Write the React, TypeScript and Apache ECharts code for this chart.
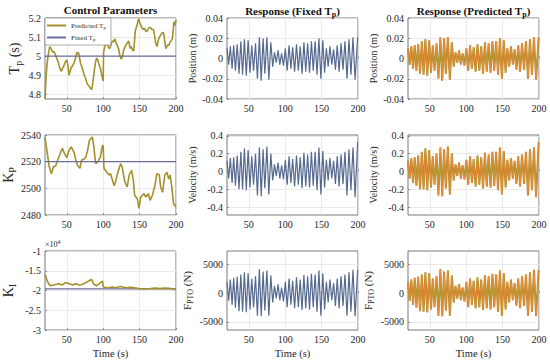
import React, { useEffect, useRef } from 'react';
import * as echarts from 'echarts';

// ---------- Control parameter data ----------
const tpT = [20,21,22,23.5,25,26.5,28,29,30.5,32,34,36,38,39.5,41,42.5,44,45,46.5,48,50,51.5,53,54.5,56,58,60,62,64,65,66,67.5,69,71,72.5,74,76,77.5,79,81,82.5,84,85,86,88,89.5,91,92.5,94,95,96.5,98,99.5,100,100.5,102,103.5,105,107,108.5,110,111.5,113,114,116,117.5,119,121,122.5,124,125,126.5,128,130,131.5,133,135,136,137,138,139,140.5,142,143,144,145.5,147,148,149,150.5,152,153,155,157,158.5,160,161.5,163,165,167,169,170.5,172,174,175.5,177,179,180.5,182,183,184.5,186,187.5,189,190,191.5,193,195,196,197,198.5,200];
const tpPred = [4.775,4.85,4.92,4.98,5.02,5.05,5.04,5.035,5.02,5.025,5.01,4.99,4.97,4.95,4.93,4.92,4.935,4.94,4.955,4.97,4.98,4.95,4.9,4.92,4.94,4.95,4.965,4.99,5.02,5.01,5.02,4.99,4.96,4.94,4.92,4.9,4.88,4.86,4.85,4.84,4.83,4.825,4.84,4.87,4.93,4.97,4.99,4.98,4.96,4.95,4.93,4.9,4.875,4.87,5.02,5.05,5.06,5.07,5.05,5.04,5.05,5.07,5.08,5.075,5.09,5.07,5.06,5.04,5.01,4.99,4.985,5.0,5.03,5.05,5.06,5.07,5.08,5.06,5.04,5.05,5.045,5.03,5.03,5.08,5.13,5.15,5.17,5.19,5.195,5.17,5.16,5.15,5.14,5.145,5.13,5.13,5.14,5.15,5.15,5.14,5.14,5.11,5.07,5.05,5.08,5.1,5.11,5.12,5.125,5.12,5.08,5.04,5.05,5.06,5.055,5.07,5.08,5.09,5.13,5.18,5.16,5.19];
const fixedTp = 5;

const kpT = [20,23,25.5,28.7,31.5,34.7,38,41.5,44,46,50,53,56,60,62,65,68,70,74,76,78,81,85,87,89.5,93,96,99,100,101,105,108,110,115,117,120,124,126,129.6,133,135.6,139,141.5,143,147,149,151.6,156,158.5,162,164.5,167.7,171,173.7,177,179,181.5,184.7,187.5,190,192,194,196.6,200];
const kpPred = [2538.5,2527,2517,2511,2516,2517,2522,2527,2530,2527,2523,2528.5,2531,2527,2522,2517,2515,2521,2522,2523.5,2527,2536,2538.5,2532,2518.5,2520,2523.5,2532,2532,2515,2512,2510,2511,2502,2505,2512,2518.5,2516,2505,2501,2510,2513.5,2506,2495,2492,2485,2493.5,2496,2493.5,2496,2491,2495,2502,2511,2510,2501,2497,2510,2512,2507,2510,2502,2488.5,2486];
const fixedKp = 2520;

const kiT = [20,23,27,32,39,44,48,53,58,62,67,71,76,80,84,87,91,94,99,100,106,113,117,124,131,138,142.5,149,156,165,172,177,184,190.6,195,200];
const kiPred = [-15900,-17600,-18800,-18600,-18300,-18600,-18000,-18300,-18600,-18300,-18600,-18500,-18000,-17600,-17200,-18400,-18800,-18300,-17600,-19100,-19300,-19100,-19300,-19000,-19300,-19200,-19300,-19500,-19600,-19500,-19400,-19500,-19400,-19450,-19550,-19900];
const fixedKi = -19600;

// ---------- Response data (extremes of the wave) ----------
const respT = [20,22.3,24.6,27,29.2,31.6,34, 36.5,39,41.4,43.9,46.5,49, 51.6,54,56.5,59.2, 61.8,64.5,67,69.6,72,74.8,77.5,80.2, 82.8,85.3,87.7,90.2,92.6,95,97.6, 100.2,102.7,105.3,107.8,110.2,112.9,115.5,118,120.6,123.1,125.7,128.2,130.8,133.4,136,138.5, 141.1,143.7,146.3,149,151.6,154.1, 156.5,159,161.5,164,166.5,169,171.5, 174,176.7,179.4,182.1,184.9,187.6,190.3,193.1,196,199.5];
const position = [0.010,-0.006,0.012,-0.010,0.013,-0.012,0.014, -0.015,0.017,-0.016,0.019,-0.017,0.018, -0.014,0.013,-0.012,0.015, -0.020,0.021,-0.022,0.020,-0.015,0.021,-0.021,0.016, -0.008,0.006,-0.004,0.008,-0.006,0.005,-0.007, 0.010,-0.012,0.013,-0.010,0.011,-0.013,0.014,-0.012,0.012,-0.015,0.016,-0.013,0.015,-0.014,0.017,-0.012, 0.017,-0.016,0.020,-0.020,0.018,-0.014, 0.010,-0.008,0.012,-0.006,0.009,-0.011,0.013, -0.013,0.015,-0.011,0.017,-0.020,0.019,-0.016,0.021,-0.021,0.021];
const velocity = [0.12,-0.08,0.15,-0.13,0.16,-0.16,0.18, -0.20,0.22,-0.20,0.26,-0.21,0.24, -0.18,0.17,-0.15,0.20, -0.27,0.27,-0.28,0.25,-0.19,0.28,-0.26,0.20, -0.10,0.08,-0.05,0.10,-0.08,0.07,-0.09, 0.13,-0.15,0.17,-0.13,0.14,-0.17,0.18,-0.15,0.16,-0.19,0.21,-0.17,0.19,-0.18,0.22,-0.16, 0.22,-0.21,0.27,-0.26,0.23,-0.18, 0.13,-0.10,0.15,-0.08,0.12,-0.14,0.17, -0.17,0.19,-0.14,0.22,-0.27,0.25,-0.21,0.27,-0.29,0.33];
const force = [2000,-1300,2400,-2000,2700,-2500,2900, -3100,3300,-3200,3700,-3300,3500, -2800,2600,-2400,3000, -3900,4200,-4000,3800,-3000,4000,-3900,3100, -1600,1300,-900,1600,-1200,1000,-1400, 2000,-2400,2600,-2000,2200,-2600,2800,-2400,2400,-2900,3200,-2600,3000,-2800,3400,-2400, 3300,-3200,4000,-3900,3500,-2800, 2000,-1600,2400,-1200,1800,-2200,2600, -2600,3000,-2200,3300,-3900,3700,-3200,4100,-4000,4100];

// ---------- Tick labels ----------
const xTicks = [50, 100, 150, 200];
const tpTicks = [4.8, 4.9, 5, 5.1, 5.2];
const kpTicks = [2480, 2500, 2520, 2540];
const kiTicks = [-30000, -25000, -20000, -15000, -10000];
const posTicks = [-0.04, -0.02, 0, 0.02, 0.04];
const velTicks = [-0.4, -0.2, 0, 0.2, 0.4];
const fTicks = [-5000, 0, 5000];

const FONT = 'Liberation Serif';
const OLIVE = '#A3912A';
const BLUE = '#56698F';
const FIXED = '#6B6E9C';
const ORANGE = '#F08A3A';
const TXT = '#262626';

const pairs = (xs: number[], ys: number[]) => xs.map((x, i) => [x, ys[i]]);

export default function App() {
  const ref = useRef<HTMLDivElement>(null);
  useEffect(() => {
    if (!ref.current) return;
    const chart = echarts.init(ref.current, undefined, { renderer: 'svg' });
    const colL = [45, 227, 408];
    const rowT = [18, 135, 251];
    const rowH = [81, 80, 80];
    const W = 131;
    const grids: any[] = [];
    for (let r = 0; r < 3; r++)
      for (let c = 0; c < 3; c++)
        grids.push({ left: colL[c], top: rowT[r], width: W, height: rowH[r], show: true, borderColor: '#555', borderWidth: 0.8, backgroundColor: '#fff' });

    const nameRich = (fs: number) => ({
      a: { fontFamily: FONT, fontSize: fs, color: TXT },
      s: { fontFamily: FONT, fontSize: Math.round(fs * 0.7), color: TXT, padding: [Math.round(fs * 0.55), 0, 0, 0] },
    });

    const plain = (v: number) => String(v);
    const yCfg = [
      { min: 4.775, max: 5.2, ticks: tpTicks, name: '{a|T}{s|p}{a| (s)}', fs: 14, gap: 22, fmt: plain },
      { min: -0.04, max: 0.04, ticks: posTicks, name: '{a|Position (m)}', fs: 10, gap: 30, fmt: plain },
      { min: -0.04, max: 0.04, ticks: posTicks, name: '{a|Position (m)}', fs: 10, gap: 30, fmt: plain },
      { min: 2480, max: 2540, ticks: kpTicks, name: '{a|K}{s|P}', fs: 14, gap: 28, fmt: plain },
      { min: -0.49, max: 0.41, ticks: velTicks, name: '{a|Velocity (m/s)}', fs: 10, gap: 30, fmt: plain },
      { min: -0.49, max: 0.41, ticks: velTicks, name: '{a|Velocity (m/s)}', fs: 10, gap: 30, fmt: plain },
      { min: -30000, max: -10000, ticks: kiTicks, name: '{a|K}{s|I}', fs: 14, gap: 28, fmt: (v: number) => String(v / 10000) },
      { min: -6400, max: 7400, ticks: fTicks, name: '{a|F}{s|PTO}{a| (N)}', fs: 11, gap: 33, fmt: plain },
      { min: -6400, max: 7400, ticks: fTicks, name: '{a|F}{s|PTO}{a| (N)}', fs: 11, gap: 33, fmt: plain },
    ];

    const xAxis = grids.map((_, i) => ({
      type: 'value', gridIndex: i, min: 20, max: 200,
      axisLine: { show: false },
      axisTick: { show: true, inside: true, length: 2, customValues: xTicks, lineStyle: { color: '#555', width: 0.6 } },
      axisLabel: { customValues: xTicks, fontFamily: FONT, fontSize: 10, color: TXT, margin: 4, formatter: plain },
      splitLine: { show: true, lineStyle: { color: '#e4e4e4', width: 0.8 } },
      name: i >= 6 ? 'Time (s)' : '', nameLocation: 'middle', nameGap: 18,
      nameTextStyle: { fontFamily: FONT, fontSize: 10.5, color: TXT },
    }));

    const yAxis = yCfg.map((c, i) => ({
      type: 'value', gridIndex: i, min: c.min, max: c.max,
      axisLine: { show: false },
      axisTick: { show: true, inside: true, length: 2, customValues: c.ticks, lineStyle: { color: '#555', width: 0.6 } },
      axisLabel: { customValues: c.ticks, fontFamily: FONT, fontSize: 10, color: TXT, margin: 4, formatter: c.fmt },
      splitLine: { show: true, lineStyle: { color: '#e4e4e4', width: 0.8 } },
      name: c.name, nameLocation: 'middle', nameGap: c.gap, nameRotate: 90,
      nameTextStyle: { rich: nameRich(c.fs) },
    }));

    const line = (name: string, xi: number, data: number[][], color: string, width: number, z = 2) => ({
      name, type: 'line', xAxisIndex: xi, yAxisIndex: xi, data, showSymbol: false, symbol: 'none',
      lineStyle: { color, width }, itemStyle: { color }, z, clip: true, silent: true,
    });

    const series: any[] = [
      line('Predicted Tp', 0, pairs(tpT, tpPred), OLIVE, 1.6),
      line('Fixed Tp', 0, [[20, fixedTp], [200, fixedTp]], FIXED, 1.2, 3),
      line('Predicted Kp', 3, pairs(kpT, kpPred), OLIVE, 1.6),
      line('Fixed Kp', 3, [[20, fixedKp], [200, fixedKp]], FIXED, 1.2, 3),
      line('Predicted Ki', 6, pairs(kiT, kiPred), OLIVE, 1.6),
      line('Fixed Ki', 6, [[20, fixedKi], [200, fixedKi]], FIXED, 1.2, 1),
      line('Pos fixed', 1, pairs(respT, position), BLUE, 1.2),
      line('Vel fixed', 4, pairs(respT, velocity), BLUE, 1.2),
      line('F fixed', 7, pairs(respT, force), BLUE, 1.2),
      line('Pos pred', 2, pairs(respT, position), OLIVE, 2),
      line('Pos pred o', 2, pairs(respT, position), ORANGE, 0.9, 3),
      line('Vel pred', 5, pairs(respT, velocity), OLIVE, 2),
      line('Vel pred o', 5, pairs(respT, velocity), ORANGE, 0.9, 3),
      line('F pred', 8, pairs(respT, force), OLIVE, 2),
      line('F pred o', 8, pairs(respT, force), ORANGE, 0.9, 3),
    ];

    const tRich = {
      b: { fontFamily: FONT, fontSize: 11, fontWeight: 'bold', color: '#111' },
      s: { fontFamily: FONT, fontSize: 8, fontWeight: 'bold', color: '#111', padding: [6, 0, 0, 0] },
    };

    chart.setOption({
      animation: false,
      backgroundColor: '#fff',
      textStyle: { fontFamily: FONT },
      title: [
        { text: '{b|Control Parameters}', left: 110.5, top: 4, textAlign: 'center', padding: 0, textStyle: { rich: tRich } },
        { text: '{b|Response (Fixed T}{s|p}{b|)}', left: 292.5, top: 4, textAlign: 'center', padding: 0, textStyle: { rich: tRich } },
        { text: '{b|Response (Predicted T}{s|p}{b|)}', left: 473.5, top: 4, textAlign: 'center', padding: 0, textStyle: { rich: tRich } },
      ],
      legend: {
        data: ['Predicted Tp', 'Fixed Tp'], orient: 'vertical', left: 45, top: 18,
        icon: 'rect', itemWidth: 19, itemHeight: 2, itemGap: 4, padding: [4, 5, 3, 2],
        backgroundColor: '#fff', borderColor: '#777', borderWidth: 0.6, borderRadius: 0,
        selectedMode: false,
        textStyle: { fontFamily: FONT, fontSize: 7, color: '#333', rich: { s: { fontFamily: FONT, fontSize: 5, color: '#333', padding: [4, 0, 0, 0] } } },
        formatter: (n: string) => (n === 'Predicted Tp' ? 'Predicted T{s|p}' : 'Fixed T{s|p}'),
      },
      graphic: [
        {
          type: 'text', left: 45, top: 239,
          style: { text: '{a|×10}{s|4}', rich: { a: { fontFamily: FONT, fontSize: 8, fill: TXT }, s: { fontFamily: FONT, fontSize: 6, fill: TXT, padding: [0, 0, 5, 0] } } },
        },
      ],
      grid: grids,
      xAxis,
      yAxis,
      series,
    });
    return () => chart.dispose();
  }, []);
  return <div ref={ref} style={{ position: 'absolute', left: 0, top: 0, width: 550, height: 360 }} />;
}
